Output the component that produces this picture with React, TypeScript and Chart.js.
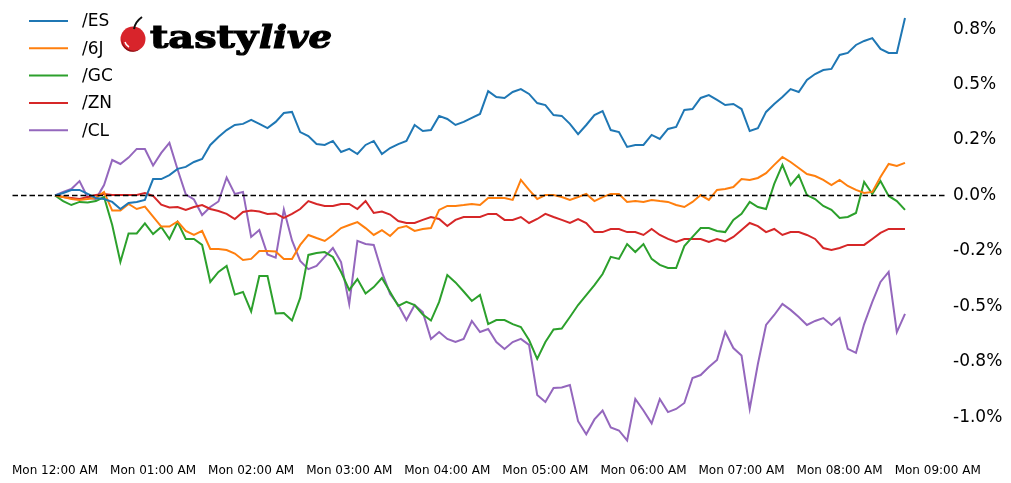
import React, { useEffect, useRef } from "react";
import { Chart, registerables } from "chart.js";

Chart.register(...registerables);

// ---- data (percent change, 5‑minute bars starting Mon 12:00 AM) ----
const SERIES_NAMES = ["/ES", "/6J", "/GC", "/ZN", "/CL"];
const COLORS = ["#1f77b4", "#ff7f0e", "#2ca02c", "#d62728", "#9467bd"];
const STEP_MINUTES = 5;

const ES = [
  0, 0.011, 0.025, 0.025, 0.007, -0.011, -0.016, -0.029, -0.061, -0.034,
  -0.029, -0.02, 0.074, 0.074, 0.092, 0.12, 0.129, 0.151, 0.165, 0.228,
  0.264, 0.295, 0.318, 0.323, 0.341, 0.323, 0.304, 0.332, 0.372, 0.377,
  0.286, 0.268, 0.232, 0.228, 0.246, 0.196, 0.21, 0.187, 0.228, 0.246,
  0.187, 0.214, 0.232, 0.246, 0.318, 0.291, 0.295, 0.359, 0.345, 0.318,
  0.332, 0.35, 0.368, 0.471, 0.444, 0.44, 0.467, 0.48, 0.458, 0.417,
  0.408, 0.363, 0.359, 0.323, 0.277, 0.318, 0.363, 0.381, 0.295, 0.286,
  0.219, 0.228, 0.228, 0.273, 0.255, 0.3, 0.309, 0.386, 0.39, 0.44,
  0.453, 0.431, 0.408, 0.413, 0.39, 0.291, 0.304, 0.377, 0.413, 0.444,
  0.48, 0.467, 0.521, 0.548, 0.566, 0.571, 0.634, 0.643, 0.679, 0.697,
  0.71, 0.661, 0.643, 0.643, 0.801,
];
const J6 = [
  0, -0.007, -0.016, -0.02, -0.016, -0.011, 0.016, -0.068, -0.068, -0.038,
  -0.061, -0.05, -0.095, -0.14, -0.14, -0.117, -0.16, -0.178, -0.16, -0.241,
  -0.241, -0.246, -0.262, -0.291, -0.286, -0.25, -0.25, -0.253, -0.286, -0.286,
  -0.223, -0.178, -0.192, -0.205, -0.178, -0.147, -0.133, -0.12, -0.147, -0.178,
  -0.156, -0.183, -0.147, -0.138, -0.16, -0.151, -0.147, -0.065, -0.047, -0.047,
  -0.043, -0.038, -0.043, -0.011, -0.011, -0.011, -0.02, 0.07, 0.025, -0.016,
  0.002, 0.002, -0.007, -0.02, -0.007, 0.007, -0.025, -0.007, 0.007, 0.007,
  -0.029, -0.025, -0.029, -0.02, -0.025, -0.029, -0.043, -0.052, -0.029, 0.002,
  -0.02, 0.025, 0.029, 0.038, 0.074, 0.07, 0.079, 0.101, 0.138, 0.174,
  0.151, 0.124, 0.097, 0.088, 0.07, 0.047, 0.07, 0.043, 0.025, 0.011,
  0.016, 0.083, 0.142, 0.133, 0.147,
];
const GC = [
  0, -0.025, -0.043, -0.029, -0.032, -0.025, -0.007, -0.133, -0.3, -0.171,
  -0.171, -0.126, -0.174, -0.142, -0.196, -0.12, -0.196, -0.196, -0.223, -0.39,
  -0.345, -0.318, -0.447, -0.435, -0.523, -0.363, -0.363, -0.532, -0.53, -0.564,
  -0.462, -0.268, -0.259, -0.255, -0.277, -0.345, -0.426, -0.377, -0.442, -0.413,
  -0.372, -0.435, -0.498, -0.48, -0.494, -0.537, -0.564, -0.48, -0.359, -0.392,
  -0.433, -0.476, -0.449, -0.58, -0.562, -0.562, -0.58, -0.593, -0.652, -0.737,
  -0.661, -0.604, -0.6, -0.548, -0.494, -0.449, -0.404, -0.354, -0.277, -0.286,
  -0.219, -0.255, -0.219, -0.286, -0.313, -0.327, -0.327, -0.228, -0.187, -0.147,
  -0.147, -0.16, -0.165, -0.11, -0.083, -0.029, -0.052, -0.061, 0.052, 0.138,
  0.047, 0.092, 0.002, -0.016, -0.047, -0.065, -0.101, -0.097, -0.079, 0.061,
  0.007, 0.065, -0.002, -0.025, -0.065,
];
const ZN = [
  0, -0.007, -0.011, -0.016, -0.007, 0.002, 0.007, 0.002, 0.002, 0.002,
  0.002, 0.011, -0.002, -0.041, -0.054, -0.052, -0.065, -0.052, -0.043, -0.061,
  -0.07, -0.083, -0.106, -0.074, -0.068, -0.072, -0.083, -0.081, -0.101, -0.083,
  -0.061, -0.025, -0.038, -0.047, -0.047, -0.038, -0.038, -0.061, -0.025, -0.079,
  -0.072, -0.086, -0.115, -0.124, -0.124, -0.11, -0.097, -0.106, -0.138, -0.11,
  -0.097, -0.097, -0.097, -0.083, -0.083, -0.11, -0.11, -0.097, -0.124, -0.106,
  -0.083, -0.097, -0.11, -0.124, -0.106, -0.124, -0.165, -0.165, -0.151, -0.151,
  -0.165, -0.165, -0.178, -0.151, -0.178, -0.196, -0.21, -0.196, -0.196, -0.196,
  -0.21, -0.196, -0.207, -0.187, -0.156, -0.124, -0.138, -0.165, -0.151, -0.178,
  -0.165, -0.165, -0.178, -0.196, -0.237, -0.246, -0.237, -0.223, -0.223, -0.223,
  -0.196, -0.169, -0.151, -0.151, -0.151,
];
const CL = [
  0, 0.016, 0.029, 0.065, -0.009, -0.016, 0.047, 0.16, 0.142, 0.171,
  0.21, 0.21, 0.135, 0.192, 0.237, 0.117, 0.005, -0.018, -0.088, -0.052,
  -0.027, 0.081, 0.007, 0.016, -0.187, -0.156, -0.266, -0.28, -0.063, -0.203,
  -0.295, -0.332, -0.318, -0.277, -0.237, -0.3, -0.489, -0.205, -0.219, -0.223,
  -0.345, -0.444, -0.494, -0.562, -0.494, -0.526, -0.647, -0.616, -0.647, -0.661,
  -0.647, -0.566, -0.616, -0.602, -0.661, -0.692, -0.661, -0.647, -0.674, -0.9,
  -0.931, -0.868, -0.866, -0.855, -1.018, -1.077, -1.01, -0.97, -1.046, -1.06,
  -1.105, -0.918, -0.97, -1.028, -0.918, -0.977, -0.963, -0.936, -0.823, -0.81,
  -0.774, -0.742, -0.616, -0.688, -0.722, -0.963, -0.76, -0.584, -0.539, -0.489,
  -0.516, -0.548, -0.584, -0.566, -0.553, -0.584, -0.553, -0.692, -0.71, -0.58,
  -0.48, -0.39, -0.345, -0.616, -0.534,
];
const SERIES = [ES, J6, GC, ZN, CL];

// timestamps (minutes after Mon 12:00 AM) of each 5-minute bar
const MINUTES = ES.map((_, i) => i * STEP_MINUTES);

const HOUR_TICKS = [0, 60, 120, 180, 240, 300, 360, 420, 480, 540];
const HOUR_LABELS = [
  "Mon 12:00 AM", "Mon 01:00 AM", "Mon 02:00 AM", "Mon 03:00 AM", "Mon 04:00 AM",
  "Mon 05:00 AM", "Mon 06:00 AM", "Mon 07:00 AM", "Mon 08:00 AM", "Mon 09:00 AM",
];
const Y_TICKS = [0.75, 0.5, 0.25, 0, -0.25, -0.5, -0.75, -1.0];
const Y_LABELS = ["0.8%", "0.5%", "0.2%", "0.0%", "-0.2%", "-0.5%", "-0.8%", "-1.0%"];

const W = 1011;
const H = 483;

const zeroAndLegend = {
  id: "zeroAndLegend",
  afterDatasetsDraw(chart: any) {
    const { ctx, chartArea, scales } = chart;
    const y0 = scales.y.getPixelForValue(0);
    ctx.save();
    ctx.strokeStyle = "#000";
    ctx.lineWidth = 1.5;
    ctx.setLineDash([5.5, 3]);
    ctx.beginPath();
    ctx.moveTo(chartArea.left, y0);
    ctx.lineTo(chartArea.right, y0);
    ctx.stroke();
    ctx.restore();
  },
  afterDraw(chart: any) {
    const { ctx } = chart;
    ctx.save();
    chart.data.datasets.forEach((ds: any, i: number) => {
      const y = 21 + i * 27.3;
      ctx.strokeStyle = ds.borderColor;
      ctx.lineWidth = 2;
      ctx.beginPath();
      ctx.moveTo(29, y);
      ctx.lineTo(68, y);
      ctx.stroke();
      ctx.fillStyle = "#000";
      ctx.font = "17px 'DejaVu Sans'";
      ctx.textBaseline = "middle";
      ctx.textAlign = "left";
      ctx.fillText(ds.label, 82, y + 1);
    });
    ctx.restore();
  },
};

function Logo() {
  return (
    <svg
      width={W}
      height={H}
      style={{ position: "absolute", left: 0, top: 0, pointerEvents: "none" }}
    >
      <circle cx={133} cy={39} r={12.5} fill="#d8242b" />
      <path d="M122 38 A12 12 0 0 0 140 49 A11 11 0 0 1 122 38 Z" fill="#8a0f14" />
      <path d="M125 42 A8 8 0 0 0 129 47" stroke="#fff" strokeWidth={1.5} fill="none" />
      <path d="M134 29 Q135 22 142 17" stroke="#111" strokeWidth={2} fill="none" />
      <text
        x={150}
        y={48}
        fontFamily="'DejaVu Serif'"
        fontWeight="bold"
        fontSize={31}
        textLength={108}
        lengthAdjust="spacingAndGlyphs"
        fill="#000"
        stroke="#000"
        strokeWidth={1.2}
      >
        tasty
      </text>
      <text
        x={259}
        y={48}
        fontFamily="'DejaVu Serif'"
        fontWeight="bold"
        fontStyle="italic"
        fontSize={31}
        textLength={73}
        lengthAdjust="spacingAndGlyphs"
        fill="#000"
        stroke="#000"
        strokeWidth={1.2}
      >
        live
      </text>
    </svg>
  );
}

export default function App() {
  const ref = useRef<HTMLCanvasElement | null>(null);

  useEffect(() => {
    if (!ref.current) return;
    const chart = new Chart(ref.current, {
      type: "line",
      data: {
        datasets: SERIES.map((s, k) => ({
          label: SERIES_NAMES[k],
          data: s.map((v, i) => ({ x: MINUTES[i], y: v })),
          borderColor: COLORS[k],
          backgroundColor: COLORS[k],
          borderWidth: 2,
          pointRadius: 0,
          tension: 0,
          fill: false,
        })),
      },
      options: {
        animation: false,
        responsive: false,
        maintainAspectRatio: false,
        devicePixelRatio: 1,
        layout: { padding: { left: 12.5, top: 0, right: 0, bottom: 0 } },
        plugins: {
          legend: { display: false },
          tooltip: { enabled: false },
        },
        scales: {
          x: {
            type: "linear",
            min: -26,
            max: 546,
            grid: { display: false, drawTicks: false },
            border: { display: false },
            afterBuildTicks: (scale: any) => {
              scale.ticks = HOUR_TICKS.map((v) => ({ value: v }));
            },
            afterFit: (scale: any) => {
              scale.height = 24;
              scale.paddingLeft = 0;
              scale.paddingRight = 0;
            },
            ticks: {
              autoSkip: false,
              maxRotation: 0,
              minRotation: 0,
              padding: 5,
              color: "#000",
              font: { family: "'DejaVu Sans'", size: 12 },
              callback: (v: any) => {
                const idx = HOUR_TICKS.indexOf(Number(v));
                return idx >= 0 ? HOUR_LABELS[idx] : "";
              },
            },
          },
          y: {
            type: "linear",
            position: "right",
            min: -1.1886,
            max: 0.8818,
            grid: { display: false, drawTicks: false },
            border: { display: false },
            afterBuildTicks: (scale: any) => {
              scale.ticks = Y_TICKS.map((v) => ({ value: v }));
            },
            afterFit: (scale: any) => {
              scale.width = 63.5;
              scale.paddingTop = 0;
              scale.paddingBottom = 0;
            },
            ticks: {
              padding: 5.5,
              color: "#000",
              font: { family: "'DejaVu Sans'", size: 17 },
              callback: (v: any) => {
                const idx = Y_TICKS.indexOf(Number(v));
                return idx >= 0 ? Y_LABELS[idx] : "";
              },
            },
          },
        },
      },
      plugins: [zeroAndLegend],
    });
    return () => chart.destroy();
  }, []);

  return (
    <div style={{ position: "absolute", left: 0, top: 0, width: W, height: H, background: "#fff" }}>
      <canvas ref={ref} width={W} height={H} style={{ width: W, height: H, display: "block" }} />
      <Logo />
    </div>
  );
}
